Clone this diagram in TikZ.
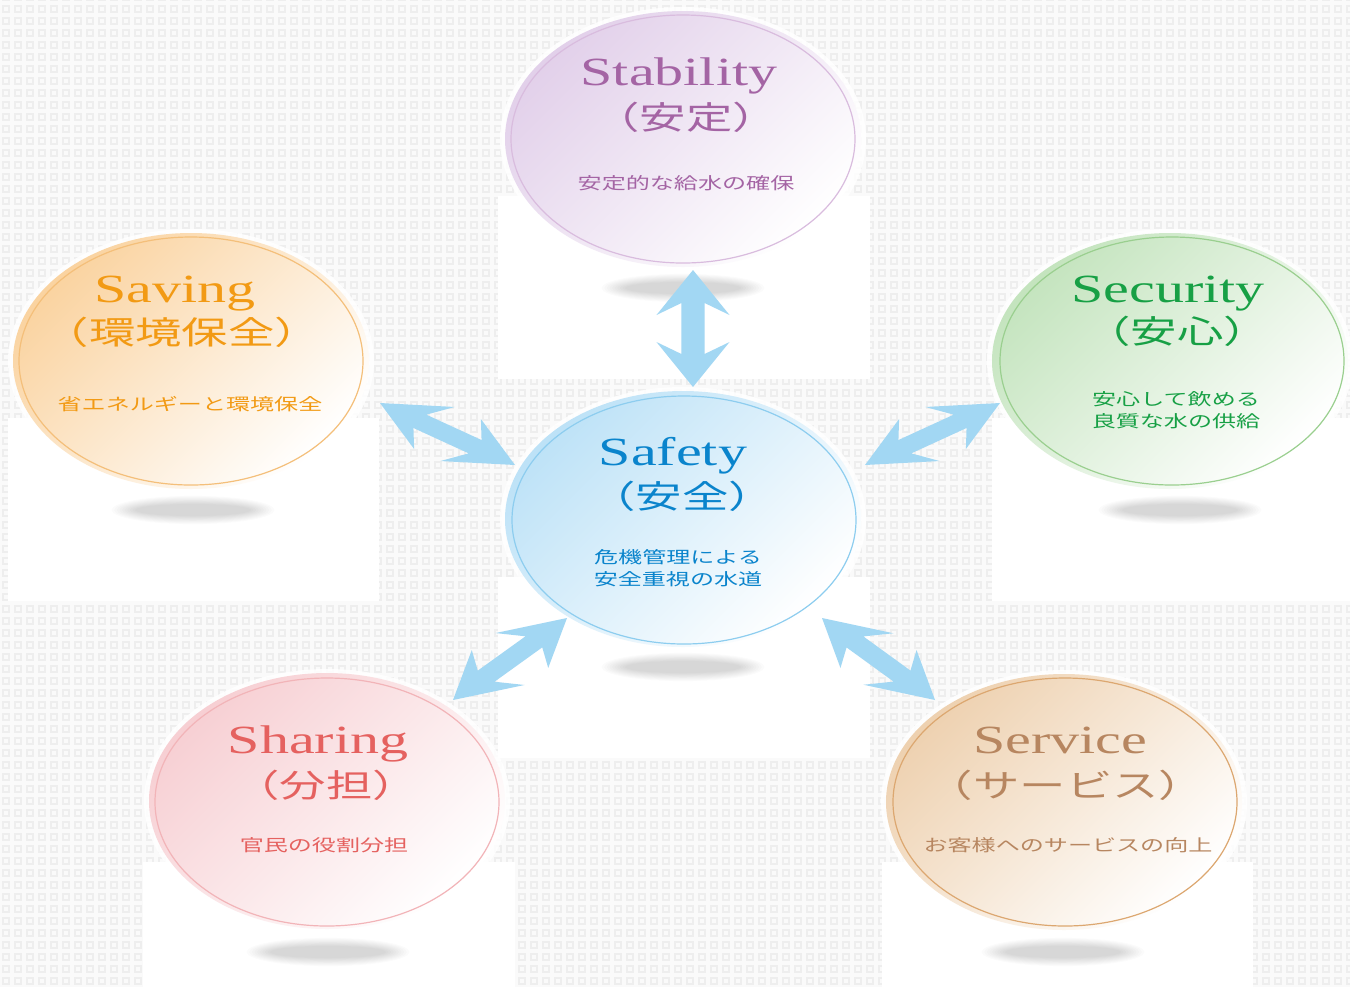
\documentclass[tikz,border=0pt]{standalone}
\usepackage{fontspec}
\setmainfont{Liberation Serif}
\newfontfamily\headfont[FakeStretch=1.45]{Liberation Serif}
\newfontfamily\cjk[FakeStretch=1.45]{Noto Sans CJK JP}
\usetikzlibrary{patterns,shapes.geometric,calc}

\pgfdeclarepatternformonly{tiles}{\pgfqpoint{-1pt}{-1pt}}{\pgfqpoint{7pt}{7pt}}{\pgfqpoint{6pt}{6pt}}{%
  \pgfsetlinewidth{1pt}%
  \pgfpathrectangle{\pgfqpoint{1.5pt}{1.5pt}}{\pgfqpoint{3pt}{3pt}}%
  \pgfusepath{stroke}}

\definecolor{tilebase}{HTML}{FAFAFA}
\definecolor{tileg}{HTML}{EEEEEE}
\definecolor{arrowblue}{HTML}{A2D7F3}
\definecolor{stabT}{HTML}{A464A4}\definecolor{stabF}{HTML}{E2D0EA}\definecolor{stabR}{HTML}{D9BCDE}
\definecolor{safeT}{HTML}{0A84CC}\definecolor{safeF}{HTML}{BDE2F7}\definecolor{safeR}{HTML}{8DCDEF}
\definecolor{saveT}{HTML}{F29A14}\definecolor{saveF}{HTML}{FAD3A0}\definecolor{saveR}{HTML}{F4BF7A}
\definecolor{secuT}{HTML}{17A045}\definecolor{secuF}{HTML}{C4E4BE}\definecolor{secuR}{HTML}{9ACF8F}
\definecolor{shareT}{HTML}{E5615F}\definecolor{shareF}{HTML}{F7CFD3}\definecolor{shareR}{HTML}{F2B4B8}
\definecolor{servT}{HTML}{B78660}\definecolor{servF}{HTML}{EED1B0}\definecolor{servR}{HTML}{DCA770}

\newdimen\arXa \newdimen\arYa \newdimen\arXb \newdimen\arYb
\newcommand\arpoint[3]{%
  \pgfmathsetmacro\qx{1.45*(\ax+(#2)*\ux-(#3)*\uy)}%
  \pgfmathsetmacro\qy{\ay+(#2)*\uy+(#3)*\ux}%
  \coordinate (#1) at (\qx pt,\qy pt);}
\newcommand\dblarrow[2]{%
  \pgfextractx{\arXa}{\pgfpointanchor{#1}{center}}%
  \pgfextracty{\arYa}{\pgfpointanchor{#1}{center}}%
  \pgfextractx{\arXb}{\pgfpointanchor{#2}{center}}%
  \pgfextracty{\arYb}{\pgfpointanchor{#2}{center}}%
  \pgfmathsetmacro\ax{\arXa/1.45}%
  \pgfmathsetmacro\ay{\arYa}%
  \pgfmathsetmacro\bx{\arXb/1.45}%
  \pgfmathsetmacro\by{\arYb}%
  \pgfmathsetmacro\L{veclen(\bx-\ax,\by-\ay)}%
  \pgfmathsetmacro\ux{(\bx-\ax)/\L}%
  \pgfmathsetmacro\uy{(\by-\ay)/\L}%
  \arpoint{#1-1}{0}{0}%
  \arpoint{#1-2}{22.5}{12.6}%
  \arpoint{#1-3}{16.5}{4}%
  \arpoint{#1-4}{\L-16.5}{4}%
  \arpoint{#1-5}{\L-22.5}{12.6}%
  \arpoint{#1-6}{\L}{0}%
  \arpoint{#1-7}{\L-22.5}{-12.6}%
  \arpoint{#1-8}{\L-16.5}{-4}%
  \arpoint{#1-9}{16.5}{-4}%
  \arpoint{#1-10}{22.5}{-12.6}%
  \fill[arrowfill] (#1-1) -- (#1-2) -- (#1-3) -- (#1-4) -- (#1-5) -- (#1-6)
     -- (#1-7) -- (#1-8) -- (#1-9) -- (#1-10) -- cycle;}

\newcommand\softshadow[2]{%
  \foreach \k in {0,...,9}{%
    \fill[black, opacity=0.015] (#1,#2) ellipse ({58+2.6*\k} and {6+0.9*\k});}}

\begin{document}
\begin{tikzpicture}[x=0.5pt,y=-0.5pt,
  arrowfill/.style={fill=arrowblue},
  glow/.style={ellipse, inner sep=0, outer sep=0, minimum width=366pt/2, minimum height=264pt/2, fill=white, fill opacity=0.85},
  bubble/.style={ellipse, inner sep=0, outer sep=0, minimum width=356pt/2, minimum height=256pt/2,
     top color=#1, bottom color=white, shading angle=45},
  ringline/.style={draw=#1, line width=0.6pt},
  headtxt/.style={font={\headfont\fontsize{20}{24}\selectfont}, anchor=base, inner sep=0},
  cjkhead/.style={font={\cjk\fontsize{16}{19}\selectfont}, inner sep=0},
  subtxt/.style={font={\cjk\fontsize{8.3}{11}\selectfont}, inner sep=0, align=center}
]
\useasboundingbox (0,0) rectangle (1350,987);
\fill[tilebase] (0,0) rectangle (1350,987);
\fill[pattern=tiles, pattern color=tileg] (0,0) rectangle (1350,987);

% white panels
\fill[white] (498,196) rectangle (870,379);
\fill[white] (498,577) rectangle (870,758);
\fill[white] (8,418) rectangle (379,601);
\fill[white] (992,418) rectangle (1350,601);
\fill[white] (143,862) rectangle (515,987);
\fill[white] (882,862) rectangle (1253,987);

% shadows
\softshadow{683}{288}
\softshadow{683}{667}
\softshadow{193}{510}
\softshadow{1180}{510}
\softshadow{328}{952}
\softshadow{1063}{952}

% bubbles
\node[glow] (stabG) at (683,139) {};
\node[bubble=stabF] (stab) at (683,139) {};
\draw[ringline=stabR] (683,139) ellipse (172 and 124);

\node[glow] (safeG) at (683,519) {};
\node[bubble=safeF] (safe) at (683,519) {};
\draw[ringline=safeR] (684,520) ellipse (172 and 124);

\node[glow] (saveG) at (191,361) {};
\node[bubble=saveF] (save) at (191,361) {};
\draw[ringline=saveR] (191,361) ellipse (172 and 124);

\node[glow] (secuG) at (1170,361) {};
\node[bubble=secuF] (secu) at (1170,361) {};
\draw[ringline=secuR] (1172,361) ellipse (172 and 124);

\node[glow] (shareG) at (327,801) {};
\node[bubble=shareF] (share) at (327,801) {};
\draw[ringline=shareR] (327,802) ellipse (172 and 124);

\node[glow] (servG) at (1064,802) {};
\node[bubble=servF] (serv) at (1064,802) {};
\draw[ringline=servR] (1065,802) ellipse (172 and 124);

% texts
\node[headtxt, text=stabT] (stabH) at (679,85) {Stability};
\node[cjkhead, text=stabT] (stabJ) at (686,117) {（安定）};
\node[subtxt, text=stabT] (stabS) at (686,183) {安定的な給水の確保};

\node[headtxt, text=safeT] (safeH) at (673,465) {Safety};
\node[cjkhead, text=safeT] (safeJ) at (682,496) {（安全）};
\node[subtxt, text=safeT] (safeS) at (678,568) {危機管理による\\安全重視の水道};

\node[headtxt, text=saveT] (saveH) at (175,302) {Saving};
\node[cjkhead, text=saveT] (saveJ) at (182,332) {（環境保全）};
\node[subtxt, text=saveT] (saveS) at (190,404) {省エネルギーと環境保全};

\node[headtxt, text=secuT] (secuH) at (1168,302) {Security};
\node[cjkhead, text=secuT] (secuJ) at (1177,331) {（安心）};
\node[subtxt, text=secuT] (secuS) at (1176,410) {安心して飲める\\良質な水の供給};

\node[headtxt, text=shareT] (shareH) at (318,753) {Sharing};
\node[cjkhead, text=shareT] (shareJ) at (326,785) {（分担）};
\node[subtxt, text=shareT] (shareS) at (324,845) {官民の役割分担};

\node[headtxt, text=servT] (servH) at (1060,753) {Service};
\node[cjkhead, text=servT] (servJ) at (1066,785) {（サービス）};
\node[subtxt, text=servT] (servS) at (1068,845) {お客様へのサービスの向上};

% arrows
\coordinate (aU) at (693,270);  \coordinate (aUe) at (693,387);
\coordinate (aL) at (380,403);  \coordinate (aLe) at (515,465);
\coordinate (aR) at (865,465);  \coordinate (aRe) at (1000,403);
\coordinate (aSL) at (453,700); \coordinate (aSLe) at (567,618);
\coordinate (aSR) at (822,618); \coordinate (aSRe) at (935,700);
\dblarrow{aU}{aUe}
\dblarrow{aL}{aLe}
\dblarrow{aR}{aRe}
\dblarrow{aSL}{aSLe}
\dblarrow{aSR}{aSRe}
\end{tikzpicture}
\end{document}
